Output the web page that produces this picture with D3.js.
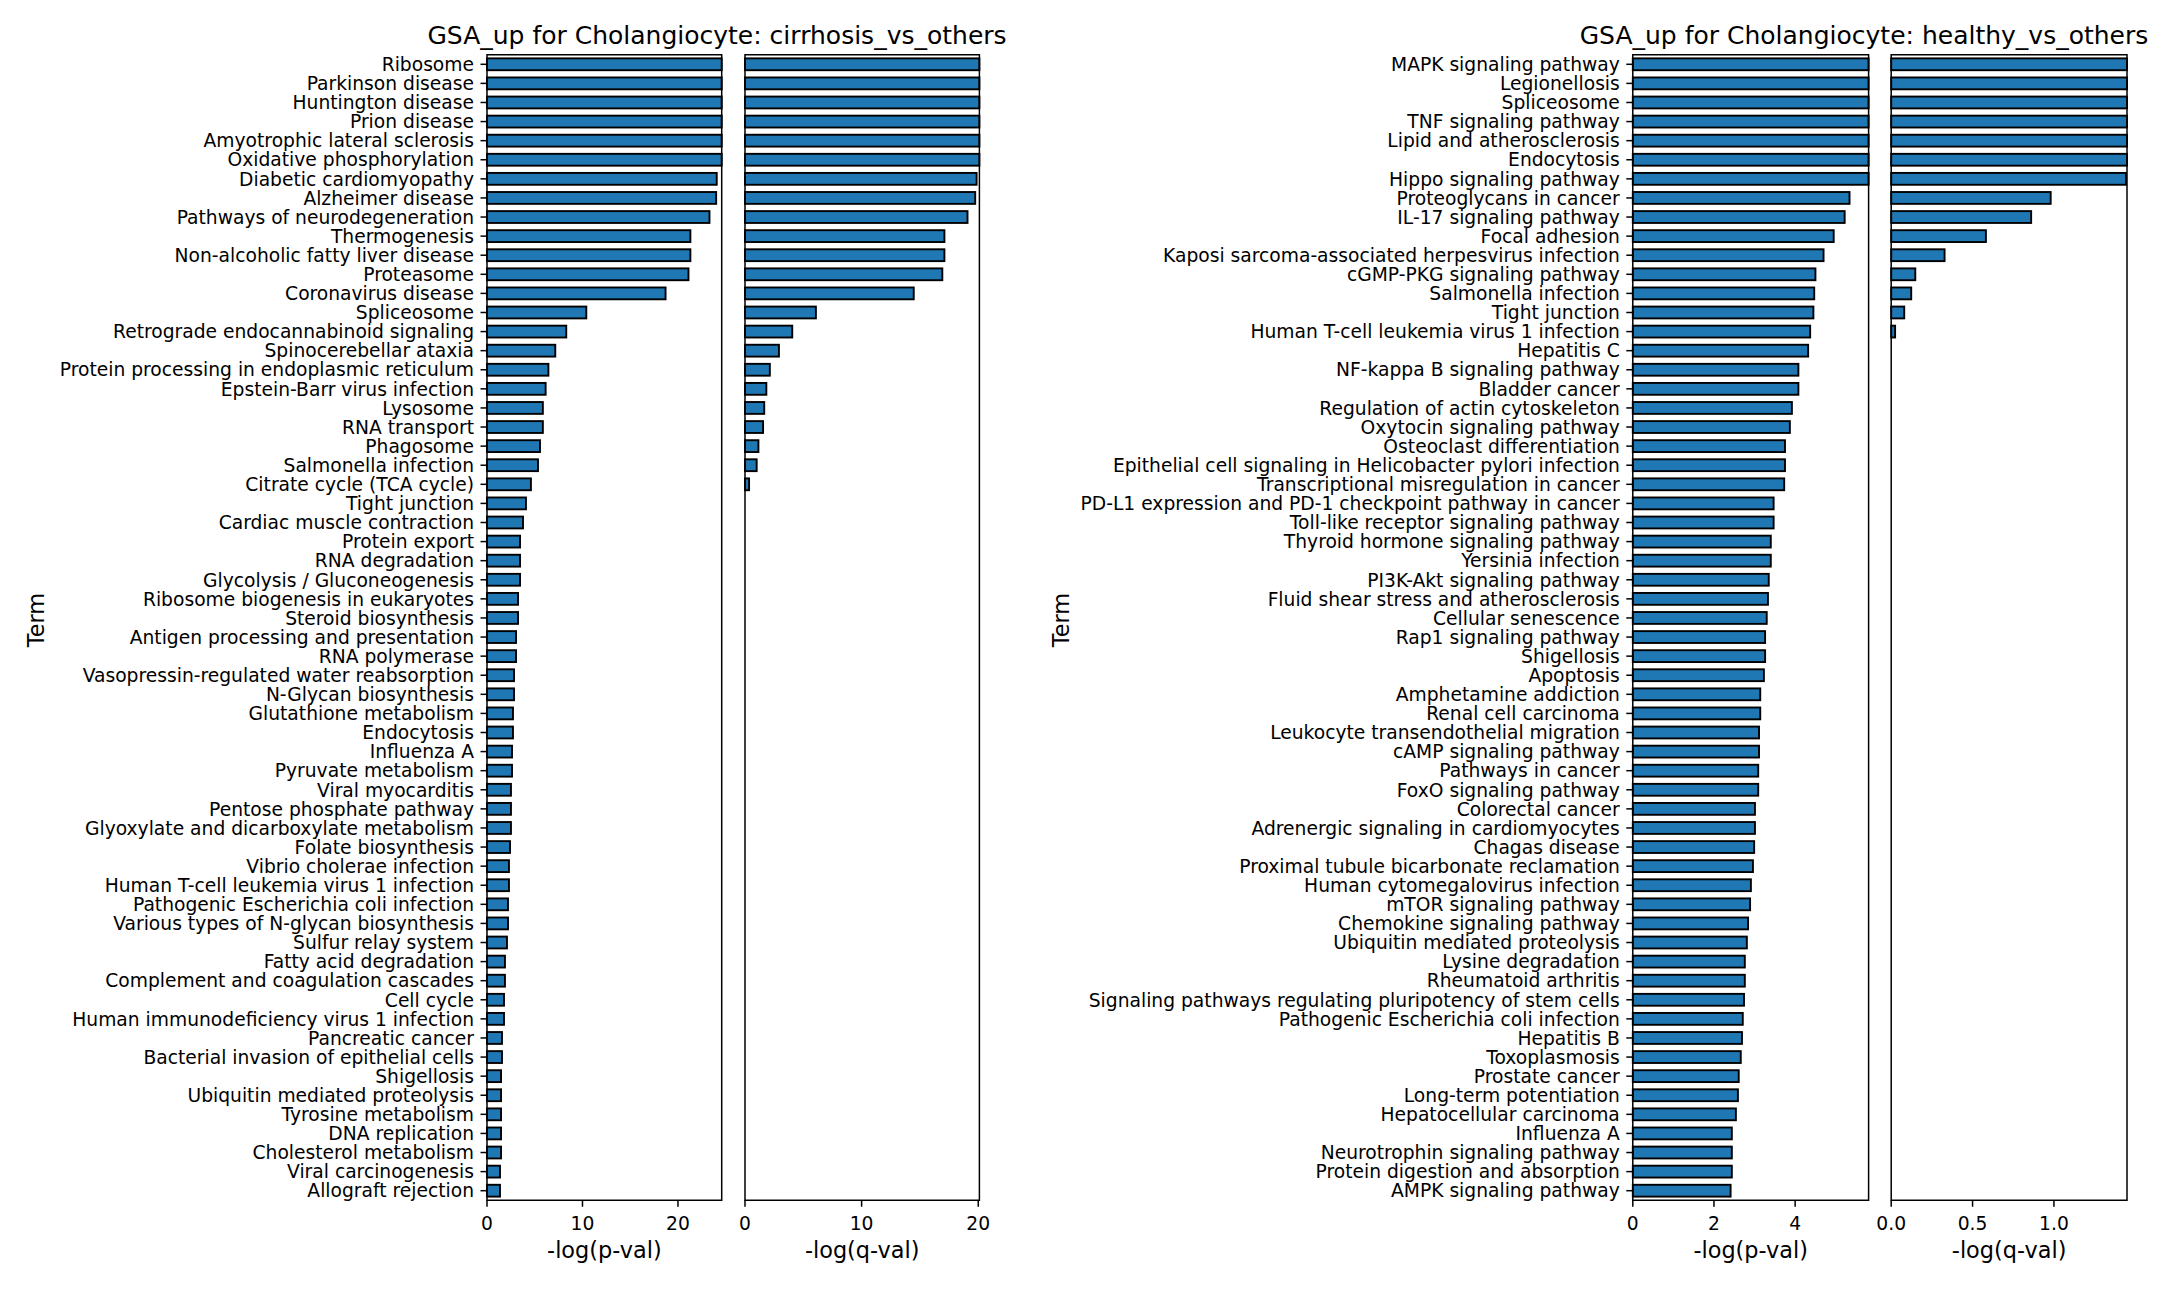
<!DOCTYPE html>
<html>
<head>
<meta charset="utf-8">
<script src="https://cdn.jsdelivr.net/npm/d3@7"></script>
<style>
  html, body { margin: 0; padding: 0; background: #fff; }
  svg { display: block; }
  text { font-family: "DejaVu Sans", sans-serif; fill: #000; }
</style>
</head>
<body>
<svg id="chart" width="2172" height="1290"></svg>
<script>
// ---------------- DATA ----------------
const termsCirrhosis = [
  "Ribosome","Parkinson disease","Huntington disease","Prion disease","Amyotrophic lateral sclerosis",
  "Oxidative phosphorylation","Diabetic cardiomyopathy","Alzheimer disease","Pathways of neurodegeneration",
  "Thermogenesis","Non-alcoholic fatty liver disease","Proteasome","Coronavirus disease","Spliceosome",
  "Retrograde endocannabinoid signaling","Spinocerebellar ataxia","Protein processing in endoplasmic reticulum",
  "Epstein-Barr virus infection","Lysosome","RNA transport","Phagosome","Salmonella infection",
  "Citrate cycle (TCA cycle)","Tight junction","Cardiac muscle contraction","Protein export","RNA degradation",
  "Glycolysis / Gluconeogenesis","Ribosome biogenesis in eukaryotes","Steroid biosynthesis",
  "Antigen processing and presentation","RNA polymerase","Vasopressin-regulated water reabsorption",
  "N-Glycan biosynthesis","Glutathione metabolism","Endocytosis","Influenza A","Pyruvate metabolism",
  "Viral myocarditis","Pentose phosphate pathway","Glyoxylate and dicarboxylate metabolism","Folate biosynthesis",
  "Vibrio cholerae infection","Human T-cell leukemia virus 1 infection","Pathogenic Escherichia coli infection",
  "Various types of N-glycan biosynthesis","Sulfur relay system","Fatty acid degradation",
  "Complement and coagulation cascades","Cell cycle","Human immunodeficiency virus 1 infection",
  "Pancreatic cancer","Bacterial invasion of epithelial cells","Shigellosis","Ubiquitin mediated proteolysis",
  "Tyrosine metabolism","DNA replication","Cholesterol metabolism","Viral carcinogenesis","Allograft rejection"
];
const pvalCirrhosis = [
  24.58,24.58,24.58,24.58,24.58,24.58,24.06,24.0,23.3,21.3,
  21.3,21.1,18.7,10.4,8.3,7.15,6.43,6.14,5.85,5.85,
  5.55,5.34,4.6,4.08,3.77,3.46,3.46,3.46,3.25,3.25,
  3.04,3.04,2.83,2.83,2.72,2.72,2.62,2.62,2.51,2.51,
  2.51,2.41,2.30,2.30,2.2,2.2,2.09,1.88,1.88,1.78,
  1.78,1.57,1.57,1.47,1.47,1.47,1.47,1.47,1.36,1.36
];
const qvalCirrhosis = [
  20.1,20.1,20.1,20.1,20.1,20.1,19.86,19.74,19.08,17.1,
  17.1,16.92,14.47,6.08,4.05,2.91,2.13,1.83,1.65,1.55,
  1.15,1.0,0.35,0,0,0,0,0,0,0,
  0,0,0,0,0,0,0,0,0,0,
  0,0,0,0,0,0,0,0,0,0,
  0,0,0,0,0,0,0,0,0,0
];
const termsHealthy = [
  "MAPK signaling pathway","Legionellosis","Spliceosome","TNF signaling pathway","Lipid and atherosclerosis",
  "Endocytosis","Hippo signaling pathway","Proteoglycans in cancer","IL-17 signaling pathway","Focal adhesion",
  "Kaposi sarcoma-associated herpesvirus infection","cGMP-PKG signaling pathway","Salmonella infection",
  "Tight junction","Human T-cell leukemia virus 1 infection","Hepatitis C","NF-kappa B signaling pathway",
  "Bladder cancer","Regulation of actin cytoskeleton","Oxytocin signaling pathway","Osteoclast differentiation",
  "Epithelial cell signaling in Helicobacter pylori infection","Transcriptional misregulation in cancer",
  "PD-L1 expression and PD-1 checkpoint pathway in cancer","Toll-like receptor signaling pathway",
  "Thyroid hormone signaling pathway","Yersinia infection","PI3K-Akt signaling pathway",
  "Fluid shear stress and atherosclerosis","Cellular senescence","Rap1 signaling pathway","Shigellosis",
  "Apoptosis","Amphetamine addiction","Renal cell carcinoma","Leukocyte transendothelial migration",
  "cAMP signaling pathway","Pathways in cancer","FoxO signaling pathway","Colorectal cancer",
  "Adrenergic signaling in cardiomyocytes","Chagas disease","Proximal tubule bicarbonate reclamation",
  "Human cytomegalovirus infection","mTOR signaling pathway","Chemokine signaling pathway",
  "Ubiquitin mediated proteolysis","Lysine degradation","Rheumatoid arthritis",
  "Signaling pathways regulating pluripotency of stem cells","Pathogenic Escherichia coli infection",
  "Hepatitis B","Toxoplasmosis","Prostate cancer","Long-term potentiation","Hepatocellular carcinoma",
  "Influenza A","Neurotrophin signaling pathway","Protein digestion and absorption","AMPK signaling pathway"
];
const pvalHealthy = [
  5.81,5.81,5.81,5.81,5.81,5.81,5.81,5.34,5.22,4.95,
  4.70,4.50,4.47,4.45,4.37,4.32,4.08,4.08,3.92,3.87,
  3.75,3.75,3.73,3.47,3.47,3.40,3.40,3.35,3.33,3.30,
  3.26,3.26,3.23,3.14,3.14,3.11,3.11,3.09,3.09,3.01,
  3.01,2.99,2.96,2.91,2.89,2.84,2.81,2.76,2.76,2.74,
  2.71,2.69,2.66,2.61,2.59,2.54,2.44,2.44,2.44,2.41
];
const qvalHealthy = [
  1.449,1.449,1.449,1.449,1.449,1.449,1.443,0.98,0.86,0.582,
  0.328,0.148,0.123,0.08,0.024,0,0,0,0,0,
  0,0,0,0,0,0,0,0,0,0,
  0,0,0,0,0,0,0,0,0,0,
  0,0,0,0,0,0,0,0,0,0,
  0,0,0,0,0,0,0,0,0,0
];
const titles = ["GSA_up for Cholangiocyte: cirrhosis_vs_others", "GSA_up for Cholangiocyte: healthy_vs_others"];
const xLabels = ["-log(p-val)", "-log(q-val)"];
const yLabel = "Term";
const ticksCirrhosisP = [0, 10, 20];
const ticksCirrhosisQ = [0, 10, 20];
const ticksHealthyP = [0, 2, 4];
const ticksHealthyQ = [0.0, 0.5, 1.0];
const xMaxCirrhosisP = 24.58, xMaxCirrhosisQ = 20.1, xMaxHealthyP = 5.81, xMaxHealthyQ = 1.449;

// ---------------- LAYOUT ----------------
const svg = d3.select("#chart");
const TOP = 54.75, BOTTOM = 1200.25;
const TICK_FONT = 18.7, LABEL_FONT = 22.4, TITLE_FONT = 25;
const TICK_LEN = 6.5, TICK_PAD = 6.5;
const BAR_FRAC = 0.62;
const BAR_COLOR = "#1f77b4";

const panels = [
  { terms: termsCirrhosis, values: pvalCirrhosis, xmax: xMaxCirrhosisP, ticks: ticksCirrhosisP, fmt: d3.format("d"),
    x0: 487, x1: 721.7, label: xLabels[0], yTicks: true },
  { terms: termsCirrhosis, values: qvalCirrhosis, xmax: xMaxCirrhosisQ, ticks: ticksCirrhosisQ, fmt: d3.format("d"),
    x0: 745, x1: 979.4, label: xLabels[1], yTicks: false },
  { terms: termsHealthy, values: pvalHealthy, xmax: xMaxHealthyP, ticks: ticksHealthyP, fmt: d3.format("d"),
    x0: 1632.8, x1: 1868.6, label: xLabels[0], yTicks: true },
  { terms: termsHealthy, values: qvalHealthy, xmax: xMaxHealthyQ, ticks: ticksHealthyQ, fmt: d3.format(".1f"),
    x0: 1891.2, x1: 2127, label: xLabels[1], yTicks: false }
];

panels.forEach(p => {
  const x = d3.scaleLinear().domain([0, p.xmax]).range([p.x0, p.x1]);
  const y = d3.scaleBand().domain(p.terms).range([TOP, BOTTOM]).padding(0);
  const bw = y.bandwidth();
  const h = bw * BAR_FRAC;
  const g = svg.append("g");

  // bars
  g.selectAll("rect.bar").data(p.terms.map((t, i) => ({ t, v: p.values[i] })).filter(d => d.v > 0))
    .enter().append("rect")
    .attr("class", "bar")
    .attr("x", x(0))
    .attr("y", d => y(d.t) + (bw - h) / 2)
    .attr("width", d => x(d.v) - x(0))
    .attr("height", h)
    .attr("fill", BAR_COLOR)
    .attr("stroke", "#000")
    .attr("stroke-width", 1.9);

  // spines
  g.append("rect")
    .attr("x", p.x0).attr("y", TOP)
    .attr("width", p.x1 - p.x0).attr("height", BOTTOM - TOP)
    .attr("fill", "none").attr("stroke", "#000").attr("stroke-width", 1.5);

  // x axis ticks
  const xa = g.append("g");
  p.ticks.forEach(tv => {
    xa.append("line")
      .attr("x1", x(tv)).attr("x2", x(tv))
      .attr("y1", BOTTOM).attr("y2", BOTTOM + TICK_LEN)
      .attr("stroke", "#000").attr("stroke-width", 1.5);
    xa.append("text")
      .attr("x", x(tv)).attr("y", 1230)
      .attr("text-anchor", "middle")
      .attr("font-size", TICK_FONT)
      .text(p.fmt(tv));
  });

  // x label
  g.append("text")
    .attr("x", (p.x0 + p.x1) / 2).attr("y", 1258)
    .attr("text-anchor", "middle")
    .attr("font-size", LABEL_FONT)
    .text(p.label);

  // y ticks
  if (p.yTicks) {
    const ya = g.append("g");
    p.terms.forEach(t => {
      const cy = y(t) + bw / 2;
      ya.append("line")
        .attr("x1", p.x0 - TICK_LEN).attr("x2", p.x0)
        .attr("y1", cy).attr("y2", cy)
        .attr("stroke", "#000").attr("stroke-width", 1.5);
      ya.append("text")
        .attr("x", p.x0 - TICK_LEN - TICK_PAD)
        .attr("y", cy)
        .attr("dy", "0.36em")
        .attr("text-anchor", "end")
        .attr("font-size", TICK_FONT)
        .text(t);
    });
  }
});

// titles
svg.append("text").attr("x", 717).attr("y", 43.5).attr("text-anchor", "middle")
  .attr("font-size", TITLE_FONT).text(titles[0]);
svg.append("text").attr("x", 1864).attr("y", 43.5).attr("text-anchor", "middle")
  .attr("font-size", TITLE_FONT).text(titles[1]);

// y labels
[[44, 620], [1069, 620]].forEach(([lx, ly]) => {
  svg.append("text")
    .attr("transform", `translate(${lx},${ly}) rotate(-90)`)
    .attr("text-anchor", "middle")
    .attr("font-size", LABEL_FONT)
    .text(yLabel);
});
</script>
</body>
</html>
